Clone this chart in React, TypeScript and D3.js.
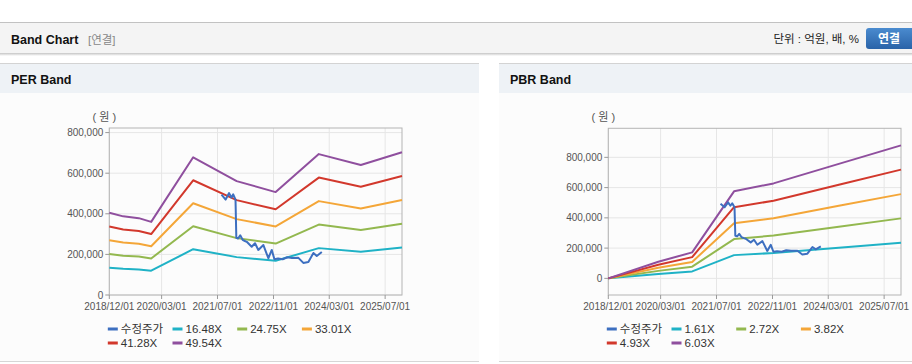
import React from "react";
import * as d3 from "d3";

// ---------- DATA ----------
const xTickLabels = ["2018/12/01", "2020/03/01", "2021/07/01", "2022/11/01", "2024/03/01", "2025/07/01"];
const yTicksPer = [0, 200000, 400000, 600000, 800000];
const yTicksPbr = [0, 200000, 400000, 600000, 800000];

// PER band base (EPS, won) at slope-change dates
const perDates = ["2018-12-01", "2019-04-01", "2019-08-15", "2019-12-01", "2020-12-01", "2021-12-15", "2022-11-20", "2023-12-01", "2024-12-01", "2025-11-25"];
const perEps = [8180, 7820, 7640, 7270, 13690, 11320, 10230, 14010, 12920, 14190];
const perMultiples = [16.48, 24.75, 33.01, 41.28, 49.54];

// PBR band base (BPS, won)
const pbrDates = ["2018-12-01", "2020-02-10", "2020-12-01", "2021-12-01", "2022-11-10", "2024-06-01", "2025-11-25"];
const pbrBps = [0, 18200, 28500, 95400, 104100, 125500, 145800];
const pbrMultiples = [1.61, 2.72, 3.82, 4.93, 6.03];

// 수정주가 (adjusted price, won)
const priceDates = [
  "2021-08-05", "2021-09-10", "2021-10-10", "2021-10-30", "2021-11-15", "2021-12-05",
  "2021-12-12", "2021-12-28", "2022-01-15", "2022-02-05", "2022-02-25", "2022-03-13", "2022-04-25",
  "2022-05-24", "2022-06-22", "2022-08-05", "2022-09-17", "2022-10-17", "2022-11-09", "2022-12-11", "2023-01-20",
  "2023-03-01", "2023-04-12", "2023-06-06", "2023-07-19", "2023-09-01", "2023-10-15", "2023-11-13", "2023-12-27",
];
const priceValues = [
  494000, 470000, 502000, 480000, 496000, 470000,
  282000, 278000, 294000, 272000, 266000, 262000, 238000,
  255000, 222000, 246000, 181000, 222000, 176000, 180000, 176000,
  186000, 182000, 183000, 158000, 163000, 207000, 192000, 212000,
];

const seriesColors = ["#3d6fc0", "#1fb2c6", "#93b84f", "#f4a638", "#d2382c", "#8f4f9e"];

// ---------- HELPERS ----------
const parse = d3.timeParse("%Y-%m-%d");
const parseTick = d3.timeParse("%Y/%m/%d");
const fmt = d3.format(",");
const FONT = "'Liberation Sans', Arial, 'Noto Sans CJK KR', sans-serif";

type Pt = { d: Date; v: number };

function Panel(props: {
  x0: number; width: number; title: string;
  plot: { left: number; right: number; top: number; bottom: number };
  yDomain: [number, number]; yTicks: number[];
  baseDates: string[]; baseValues: number[]; multiples: number[];
}) {
  const { x0, width, title, plot, yDomain, yTicks, baseDates, baseValues, multiples } = props;
  const x = d3.scaleTime()
    .domain([parse("2018-12-01")!, parse("2025-11-25")!])
    .range([plot.left, plot.right]);
  const y = d3.scaleLinear().domain(yDomain).range([plot.bottom, plot.top]);
  const line = d3.line<Pt>().x((p) => x(p.d)).y((p) => y(p.v));

  const bands = multiples.map((m) =>
    baseDates.map((ds, i) => ({ d: parse(ds)!, v: baseValues[i] * m }))
  );
  const price = priceDates.map((ds, i) => ({ d: parse(ds)!, v: priceValues[i] }));
  const tickDates = xTickLabels.map((t) => parseTick(t)!);

  const legendItems = ["수정주가", ...multiples.map((m) => m.toFixed(2) + "X")];
  const colPitch = 64.7;

  return (
    <g>
      {/* panel header */}
      <rect x={x0} y={63} width={width} height={1} fill="#d3d3d3" />
      <rect x={x0} y={64} width={width} height={29} fill="#eef2f6" />
      <rect x={x0} y={93} width={width} height={268} fill="#fcfcfc" />
      <rect x={x0} y={361} width={width} height={1} fill="#d6d6d6" />
      <text x={x0 + 11} y={84} fontFamily={FONT} fontSize={12.5} fontWeight="bold" fill="#111">{title}</text>

      {/* gridlines */}
      {yTicks.map((t) => (
        <line key={"gy" + t} x1={plot.left} x2={plot.right} y1={y(t)} y2={y(t)} stroke="#e6e6e6" strokeWidth={1} />
      ))}
      {tickDates.map((d, i) => (
        <line key={"gx" + i} x1={x(d)} x2={x(d)} y1={plot.top} y2={plot.bottom} stroke="#e6e6e6" strokeWidth={1} />
      ))}
      {/* frame */}
      <rect x={plot.left} y={plot.top} width={plot.right - plot.left} height={plot.bottom - plot.top} fill="none" stroke="#b4b4b4" strokeWidth={1} />

      {/* y axis */}
      {yTicks.map((t) => (
        <g key={"ty" + t}>
          <line x1={plot.left - 4} x2={plot.left} y1={y(t)} y2={y(t)} stroke="#999" />
          <text x={plot.left - 6} y={y(t)} dy="0.35em" textAnchor="end" fontFamily={FONT} fontSize={10} fill="#555">{fmt(t)}</text>
        </g>
      ))}
      <text x={plot.left - 5} y={121} textAnchor="middle" fontFamily={FONT} fontSize={11} fill="#555">( 원 )</text>

      {/* x axis */}
      {tickDates.map((d, i) => (
        <g key={"tx" + i}>
          <line x1={x(d)} x2={x(d)} y1={plot.bottom} y2={plot.bottom + 4} stroke="#999" />
          <text x={x(d)} y={310} textAnchor="middle" fontFamily={FONT} fontSize={10} fill="#555">{xTickLabels[i]}</text>
        </g>
      ))}

      {/* bands */}
      {bands.map((b, i) => (
        <path key={"b" + i} d={line(b)!} fill="none" stroke={seriesColors[i + 1]} strokeWidth={2} strokeLinejoin="round" />
      ))}
      <path d={line(price)!} fill="none" stroke={seriesColors[0]} strokeWidth={2} strokeLinejoin="round" />

      {/* legend */}
      {legendItems.map((lab, i) => {
        const row = i < 4 ? 0 : 1;
        const col = i < 4 ? i : i - 4;
        const lx = plot.left - 1.5 + col * colPitch;
        const ly = row === 0 ? 329 : 343;
        return (
          <g key={"lg" + i}>
            <line x1={lx} x2={lx + 10} y1={ly} y2={ly} stroke={seriesColors[i]} strokeWidth={3} />
            <text x={lx + 13} y={ly} dy="0.36em" fontFamily={FONT} fontSize={11.5} fill="#333">{lab}</text>
          </g>
        );
      })}
    </g>
  );
}

export default function App() {
  return (
    <div style={{ position: "absolute", left: 0, top: 0, width: 912, height: 364, background: "#fff" }}>
      <svg width={912} height={364} viewBox="0 0 912 364" style={{ display: "block" }}>
        <defs>
          <linearGradient id="btn" x1="0" y1="0" x2="0" y2="1">
            <stop offset="0" stopColor="#4a8bcf" />
            <stop offset="1" stopColor="#2a63a8" />
          </linearGradient>
          <linearGradient id="shadow" x1="0" y1="0" x2="0" y2="1">
            <stop offset="0" stopColor="#c4c4c4" />
            <stop offset="1" stopColor="#ffffff" />
          </linearGradient>
        </defs>
        <rect x={0} y={0} width={912} height={364} fill="#fff" />
        {/* top header bar */}
        <rect x={0} y={22} width={912} height={1} fill="#c2c2c2" />
        <rect x={0} y={23} width={912} height={30} fill="#f4f4f4" />
        <rect x={0} y={53} width={912} height={3} fill="url(#shadow)" />
        <text x={11} y={44} fontFamily={FONT} fontSize={12.5} fontWeight="bold" fill="#111">Band Chart</text>
        <text x={88} y={44} fontFamily={FONT} fontSize={11.5} fill="#888">[연결]</text>
        <text x={859} y={43} textAnchor="end" fontFamily={FONT} fontSize={11.5} fill="#222">단위 : 억원, 배, %</text>
        <rect x={866} y={28} width={52} height={21} rx={3} fill="url(#btn)" />
        <text x={889} y={43} textAnchor="middle" fontFamily={FONT} fontSize={12} fontWeight="bold" fill="#fff">연결</text>

        <Panel
          x0={0} width={479} title="PER Band"
          plot={{ left: 109.3, right: 402, top: 128, bottom: 295 }}
          yDomain={[0, 822600]} yTicks={yTicksPer}
          baseDates={perDates} baseValues={perEps} multiples={perMultiples}
        />
        <Panel
          x0={499} width={413} title="PBR Band"
          plot={{ left: 608.3, right: 901, top: 128.3, bottom: 295 }}
          yDomain={[-110000, 992000]} yTicks={yTicksPbr}
          baseDates={pbrDates} baseValues={pbrBps} multiples={pbrMultiples}
        />
      </svg>
    </div>
  );
}
